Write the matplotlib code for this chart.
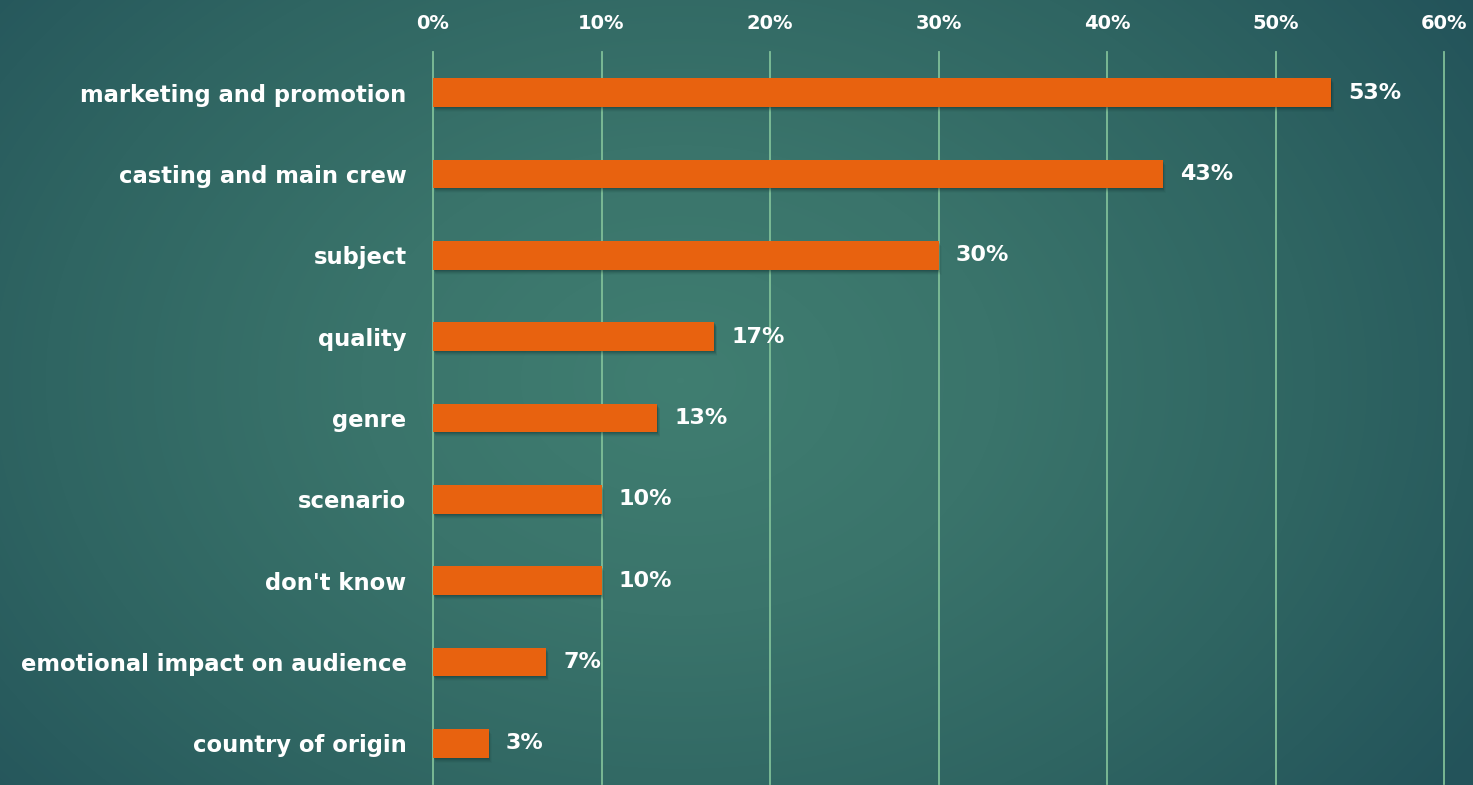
import numpy as np
import matplotlib
matplotlib.use("Agg")
import matplotlib.pyplot as plt
from matplotlib.colors import LinearSegmentedColormap
from matplotlib import transforms

categories = ["marketing and promotion", "casting and main crew", "subject", "quality",
              "genre", "scenario", "don't know", "emotional impact on audience",
              "country of origin"]
values = [53.3, 43.3, 30.0, 16.7, 13.3, 10.0, 10.0, 6.7, 3.3]
value_labels = ["53%", "43%", "30%", "17%", "13%", "10%", "10%", "7%", "3%"]
ticks = [0, 10, 20, 30, 40, 50, 60]
tick_labels = ["0%", "10%", "20%", "30%", "40%", "50%", "60%"]

W, H = 1473, 785
fig = plt.figure(figsize=(W / 100, H / 100), dpi=100)

# background radial gradient
bg = fig.add_axes([0, 0, 1, 1])
yy, xx = np.mgrid[0:H, 0:W]
cx, cy = 680, 380
r = np.sqrt(((xx - cx) / 950.0) ** 2 + ((yy - cy) / 700.0) ** 2)
r = np.clip(r, 0, 1)
cmap = LinearSegmentedColormap.from_list("bg", ["#407e71", "#3a746b", "#2f6562", "#23535a"])
bg.imshow(r, cmap=cmap, vmin=0, vmax=1, aspect="auto", extent=[0, W, H, 0])
bg.axis("off")

ax = fig.add_axes([433 / W, 1 / H, (1444 - 433) / W, (784 - 52) / H])
ax.set_facecolor("none")
y = np.arange(len(categories))
bar_h = 0.35

# drop shadow
for k, a in [(1, 0.16), (2, 0.13), (3, 0.10), (4, 0.07), (5, 0.04)]:
    off = transforms.ScaledTranslation(k * 0.6 / 100, -k * 1.0 / 100, fig.dpi_scale_trans)
    ax.barh(y, values, height=bar_h, color="#0d2a2a", alpha=a, linewidth=0,
            transform=ax.transData + off, zorder=2)

ax.barh(y, values, height=bar_h, color="#e8620f", linewidth=0, zorder=3)

for yi, v, lab in zip(y, values, value_labels):
    ax.annotate(lab, (v, yi), xytext=(12.5, 0), textcoords="offset points",
                ha="left", va="center", color="white", fontsize=16,
                fontweight="bold", family="DejaVu Sans", zorder=4)

ax.set_xlim(0, 60)
ax.set_ylim(len(categories) - 0.5, -0.5)
ax.set_xticks(ticks)
ax.set_xticklabels(tick_labels)
ax.xaxis.tick_top()
ax.tick_params(axis="x", length=0, pad=14, labelsize=14, labelcolor="white")
for t in ax.get_xticklabels():
    t.set_fontweight("bold")
ax.set_yticks(y)
ax.set_yticklabels(categories)
ax.tick_params(axis="y", length=0, pad=19, labelsize=16.3, labelcolor="white")
for t in ax.get_yticklabels():
    t.set_fontweight("bold")
ax.grid(axis="x", color="#7fbf98", linewidth=1.3, zorder=1)
ax.set_axisbelow(True)
for gl in ax.get_xgridlines():
    gl.set_clip_on(False)
for s in ax.spines.values():
    s.set_visible(False)

fig.savefig("out.png", dpi=100)
